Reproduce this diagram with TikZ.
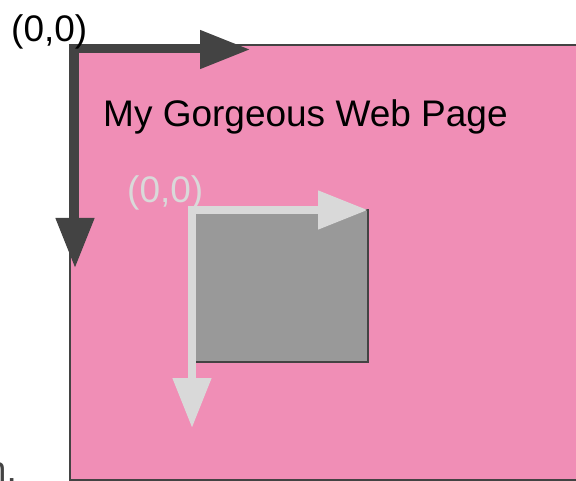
\documentclass[tikz,border=0pt]{standalone}
\usepackage{fontspec}
\setmainfont{Liberation Sans}
\usetikzlibrary{arrows.meta}
\definecolor{pinkbg}{RGB}{240,142,182}
\definecolor{darkgr}{RGB}{67,67,67}
\definecolor{lightgr}{RGB}{217,217,217}
\definecolor{boxgr}{RGB}{153,153,153}
\tikzset{
  lbl/.style={inner sep=0pt, anchor=base west, font=\fontsize{37}{40}\selectfont},
  axisbase/.style={line width=8pt, line join=miter,
    arrows={Triangle[length=50pt,width=37pt]-Triangle[length=50pt,width=37pt]}},
  axisdark/.style={axisbase, draw=darkgr},
  axislight/.style={axisbase, draw=lightgr},
}
\begin{document}
\begin{tikzpicture}[x=1pt,y=-1pt]
\useasboundingbox (0,0) rectangle (576,481);
% page
\draw[fill=pinkbg, draw=darkgr, line width=1.8pt] (70,45) rectangle (600,480);
% outer axes
\coordinate (ox) at (250,49.5);
\coordinate (oo) at (75,49.5);
\coordinate (oy) at (75,268);
\draw[axisdark] (oy) -- (oo) -- (ox);
% element box
\draw[fill=boxgr, draw=darkgr, line width=1.8pt] (192,210) rectangle (368,362);
% inner axes
\coordinate (ix) at (368,210);
\coordinate (io) at (192,210);
\coordinate (iy) at (192,428);
\draw[axislight] (iy) -- (io) -- (ix);
% labels
\node[lbl, text=black] (origA) at (11,42) {(0,0)};
\node[lbl, text=black] (title) at (103,127) {My Gorgeous Web Page};
\node[lbl, text=lightgr] (origB) at (127,203) {(0,0)};
\node[inner sep=0pt, anchor=base east, font=\fontsize{37}{40}\selectfont, text=darkgr] (cut) at (17,482) {n.};
\end{tikzpicture}
\end{document}
